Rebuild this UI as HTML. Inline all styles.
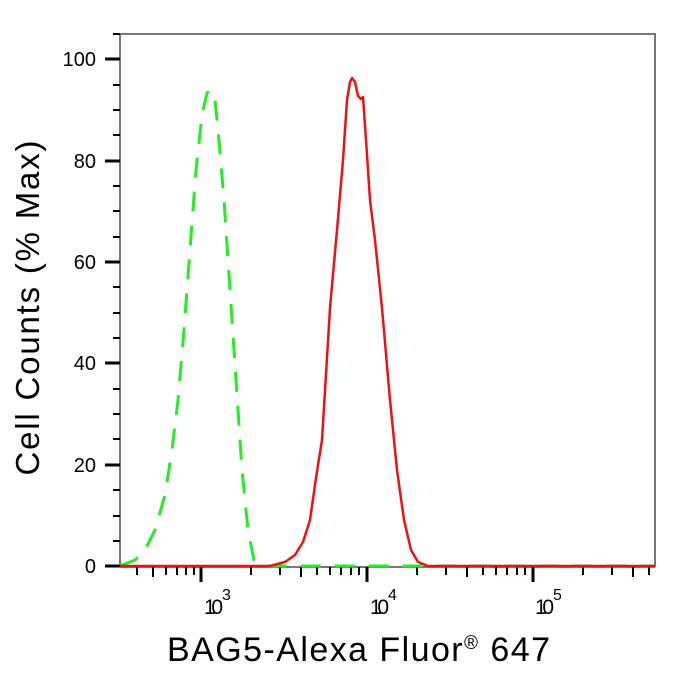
<!DOCTYPE html>
<html><head><style>body{margin:0;background:#fff}</style></head><body>
<svg width="673" height="672" xmlns="http://www.w3.org/2000/svg" font-family="Liberation Sans, Arial, sans-serif">
<rect width="673" height="672" fill="#fff"/>
<path d="M120,34 H655 V567" fill="none" stroke="#777" stroke-width="2"/>
<line x1="120" y1="34" x2="120" y2="567" stroke="#777" stroke-width="2"/>
<line x1="120" y1="567" x2="655" y2="567" stroke="#777" stroke-width="2"/>
<g stroke="#000" stroke-width="2">
<line x1="105" y1="566" x2="120" y2="566" stroke-width="3"/>
<line x1="105" y1="465" x2="120" y2="465" stroke-width="3"/>
<line x1="105" y1="363" x2="120" y2="363" stroke-width="3"/>
<line x1="105" y1="262" x2="120" y2="262" stroke-width="3"/>
<line x1="105" y1="161" x2="120" y2="161" stroke-width="3"/>
<line x1="105" y1="59" x2="120" y2="59" stroke-width="3"/>
<line x1="113" y1="541" x2="120" y2="541"/><line x1="113" y1="516" x2="120" y2="516"/><line x1="113" y1="490" x2="120" y2="490"/>
<line x1="113" y1="439" x2="120" y2="439"/><line x1="113" y1="414" x2="120" y2="414"/><line x1="113" y1="389" x2="120" y2="389"/>
<line x1="113" y1="338" x2="120" y2="338"/><line x1="113" y1="313" x2="120" y2="313"/><line x1="113" y1="287" x2="120" y2="287"/>
<line x1="113" y1="237" x2="120" y2="237"/><line x1="113" y1="211" x2="120" y2="211"/><line x1="113" y1="186" x2="120" y2="186"/>
<line x1="113" y1="135" x2="120" y2="135"/><line x1="113" y1="110" x2="120" y2="110"/><line x1="113" y1="85" x2="120" y2="85"/>
<line x1="113" y1="34" x2="120" y2="34"/>
</g>
<g font-size="20" text-anchor="end" fill="#000">
<text x="96" y="573">0</text><text x="96" y="472">20</text><text x="96" y="370">40</text>
<text x="96" y="269">60</text><text x="96" y="168">80</text><text x="96" y="66">100</text>
</g>
<g stroke="#000" stroke-width="2">
<line x1="137" y1="567" x2="137" y2="575"/><line x1="153" y1="567" x2="153" y2="577"/><line x1="166" y1="567" x2="166" y2="575"/><line x1="177" y1="567" x2="177" y2="575"/><line x1="186" y1="567" x2="186" y2="575"/><line x1="194" y1="567" x2="194" y2="575"/>
<line x1="201" y1="567" x2="201" y2="582" stroke-width="3"/>
<line x1="251" y1="567" x2="251" y2="575"/><line x1="280" y1="567" x2="280" y2="575"/><line x1="301" y1="567" x2="301" y2="577"/><line x1="317" y1="567" x2="317" y2="575"/><line x1="330" y1="567" x2="330" y2="575"/><line x1="341" y1="567" x2="341" y2="575"/><line x1="351" y1="567" x2="351" y2="575"/><line x1="359" y1="567" x2="359" y2="575"/>
<line x1="367" y1="567" x2="367" y2="582" stroke-width="3"/>
<line x1="417" y1="567" x2="417" y2="575"/><line x1="446" y1="567" x2="446" y2="575"/><line x1="467" y1="567" x2="467" y2="577"/><line x1="483" y1="567" x2="483" y2="575"/><line x1="496" y1="567" x2="496" y2="575"/><line x1="507" y1="567" x2="507" y2="575"/><line x1="517" y1="567" x2="517" y2="575"/><line x1="525" y1="567" x2="525" y2="575"/>
<line x1="533" y1="567" x2="533" y2="582" stroke-width="3"/>
<line x1="583" y1="567" x2="583" y2="575"/><line x1="612" y1="567" x2="612" y2="575"/><line x1="633" y1="567" x2="633" y2="577"/><line x1="649" y1="567" x2="649" y2="575"/>
</g>
<g font-size="21" fill="#000">
<text x="204" y="614" textLength="19">10</text><text x="222" y="600" font-size="16">3</text>
<text x="370" y="614" textLength="19">10</text><text x="388" y="600" font-size="16">4</text>
<text x="535" y="614" textLength="19">10</text><text x="553" y="600" font-size="16">5</text>
</g>
<path d="M120,566 L135,560 145,550 155,530 165,495 172,450 178,400 184,330 190,250 196,170 202,115 207,93 211,90 215,100 219,140 224,200 230,290 236,380 242,470 248,530 254,560 262,566 655,566" fill="none" stroke="#22ee22" stroke-width="3" stroke-dasharray="20,14"/>
<path d="M120,566 L270,566 285,562 295,555 303,542 310,520 316,478 322,440 330,308 337,230 343,160 347,100 350,82 352,78 355,82 358,96 361,99 363,97 366,140 370,200 375,240 382,308 390,400 397,470 404,520 411,550 418,562 428,566 655,566" fill="none" stroke="#ee1111" stroke-width="2.5" stroke-linejoin="round"/>
<text transform="translate(39,308) rotate(-90)" font-size="33" text-anchor="middle" fill="#000" textLength="335">Cell Counts (% Max)</text>
<text x="167" y="661" font-size="34" fill="#000" textLength="383">BAG5-Alexa Fluor<tspan font-size="19" dy="-12">®</tspan><tspan dy="12"> 647</tspan></text>
</svg>
</body></html>
